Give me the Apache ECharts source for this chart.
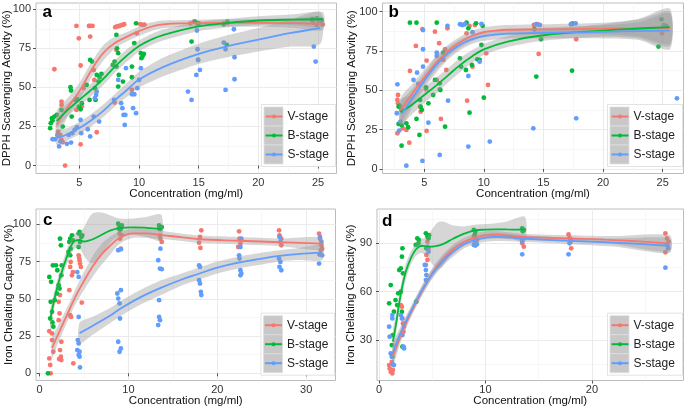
<!DOCTYPE html>
<html><head><meta charset="utf-8">
<script src="https://cdn.jsdelivr.net/npm/echarts@6/dist/echarts.min.js"></script>
<style>html,body{margin:0;padding:0;background:#fff}#c{width:685px;height:410px}</style>
</head><body><div id="c"></div>
<script>
const stages = ['V-stage', 'B-stage', 'S-stage'];
const colors = ['#F8766D', '#00BA38', '#619CFF'];
const xTitle = 'Concentration (mg/ml)';
const yTitleDPPH = 'DPPH Scavenging Activity (%)';
const yTitleIron = 'Iron Chelating Capacity (%)';

// tick labels
const xTicksAB = [5, 10, 15, 20, 25];
const xMinorAB = [2.5, 7.5, 12.5, 17.5, 22.5];
const xTicksC = [0, 10, 20, 30];
const xMinorC = [5, 15, 25];
const xTicksD = [0, 10, 20];
const xMinorD = [5, 15, 25];
const yTicksABC = [0, 25, 50, 75, 100];
const yMinorABC = [12.5, 37.5, 62.5, 87.5];
const yTicksD = [30, 60, 90];
const yMinorD = [15, 45, 75, 105];

// ---- panel a points [concentration, %]
const aV = [[2.9,61.6],[3.2,21.7],[3.4,19.6],[3.5,16.4],[3.6,14.9],[3.5,40.9],[3.5,38.8],[3.8,0],[4.75,89.3],[4.95,81.4],[4.75,35.6],[5.1,64],[5.1,13.6],[5.2,37.7],[5.35,49.5],[5.8,89.3],[5.9,89.3],[6.1,89.3],[5.9,82.5],[6.2,61.2],[6.25,54.8],[6.45,21.3],[7.95,40.3],[8.0,88.5],[8.15,89],[8.3,89.2],[8.45,89.6],[8.6,90],[8.75,90.4],[8.1,74],[9.4,48.4],[9.8,84.6],[10.1,90.4],[10.3,90],[10.45,90.2],[14.3,91],[14.6,92],[14.9,90.5],[17.1,91],[17.4,91.2],[24.6,91.5],[24.9,90],[25.1,91.8],[25.4,90.2]];
const aB = [[2.55,23.9],[2.6,27.1],[2.7,30.3],[2.9,31.3],[2.75,28.8],[3.1,32.4],[3.6,24.9],[3.5,35.6],[4.25,50.1],[4.3,48],[4.35,31.3],[4.65,42],[4.8,42.4],[4.95,37.7],[5.1,36],[5.2,39.9],[5.6,51.6],[5.85,42],[5.9,67.6],[6.05,66.5],[6.3,49.5],[6.45,58],[6.6,53.7],[6.7,56.5],[6.85,58.6],[6.35,42],[7.8,64.4],[7.95,66.5],[8.1,63.3],[8.1,83.6],[8.15,75],[8.25,71.9],[8.25,50.5],[8.3,58],[8.65,53.7],[9.4,56.5],[9.4,63.3],[9.6,78.3],[9.75,91],[10.15,71.9],[10.3,70.1],[10.2,68.7],[10.4,71.4],[14.4,79.3],[14.95,67.6],[14.7,92.1],[15.0,91],[17.1,90.4],[17.4,92],[17.35,77.2],[24.5,93.6],[24.9,94.2],[25.3,93]];
const aS = [[2.75,16.8],[2.95,16.8],[3.15,19.6],[3.3,12.2],[3.4,15.4],[3.95,13.9],[4.1,19.6],[4.3,14.7],[4.4,20.7],[4.6,22.8],[4.8,24.5],[5.1,29.2],[5.15,20.7],[5.7,23.2],[5.9,18.6],[6.2,31.3],[6.3,43.1],[6.4,45.2],[6.45,47.3],[6.65,28.1],[7.9,42],[8.25,54.8],[8.5,39.9],[8.6,36.7],[8.7,32.4],[8.8,26],[8.85,32.4],[8.9,62.3],[9.4,45.6],[9.6,45.6],[9.5,36.7],[9.75,33.5],[9.85,49.5],[10.0,54.8],[10.15,62.3],[14.1,47.3],[14.4,42],[14.8,58],[14.85,86.4],[14.9,74.4],[14.95,67.6],[15.1,61.2],[17.25,48.4],[17.1,78.7],[17.25,74.4],[17.95,87.2],[18.0,69.3],[18.0,55.2],[24.65,76.1],[24.8,66.5],[25.1,92]];
// smooth fits [x, fit, lower, upper]
const aVfit = [[3.1,26,17,35],[4,37,31,43],[5,47.5,42,53],[6,61,56,66],[7,72,67,77],[8,78.5,75,82.5],[9,82.5,79.5,85.5],[10,86,83,89],[11,88.8,86,91.5],[12,90.3,87.8,92.8],[14,91,88.8,93.2],[17,91.3,89,93.6],[20,91.3,88.8,93.8],[23,91.1,88,94.2],[25.4,90.8,86.5,95]];
const aBfit = [[3.1,28.5,24,33],[4,35.5,31.5,39.5],[5,42,38,46],[6,48.5,44.5,52.5],[7,55.5,51.5,59.5],[8,63.5,59.5,67.5],[9,70.5,66.5,74.5],[10,76.5,73,80],[11,80.5,77,84],[12,83.5,80,87],[15,89,86,92],[17.5,91.3,88.5,94],[20,92.8,90,95.6],[23,93.4,90,96.8],[25.4,93.6,89,98.2]];
const aSfit = [[3.1,17.5,13,22],[4,20,16,24],[5,24,20,28],[6,29,25,33],[7,35,31,39],[8,42,38,46],[9,48.5,44,53],[10,55,50,60],[12,63,57,69],[15,71.5,65,78],[17.5,76.5,69.5,83.5],[20,80.5,73,88],[22.5,84.5,76,93],[25.2,88,78,98]];

// ---- panel b points
const bV = [[2.75,43.9],[2.8,41.7],[2.8,47],[2.75,22.7],[2.95,29],[3.2,25.8],[3.5,24.8],[3.75,16.7],[3.8,62.3],[4.3,78.2],[4.65,39.6],[4.7,36.4],[4.85,88.8],[5.15,50.6],[5.2,24.2],[5.2,68.9],[5.9,87.3],[6.05,56.6],[6.25,79.9],[6.3,50.6],[6.4,31.8],[6.6,69.3],[6.75,76.1],[6.95,89.4],[6.85,62.9],[8.55,86.2],[8.6,43.4],[8.8,90.9],[9.05,65],[9.25,91.5],[10.2,73.5],[10.35,53.4],[14.6,73.1],[14.2,91.5],[14.5,92],[17.45,92.6],[17.75,82.4],[24.95,86.2],[25.25,90.9]];
const bB = [[2.85,39.6],[2.95,40],[3.1,37.5],[2.85,28.6],[3.1,27.8],[3.1,14.8],[3.5,29],[3.65,26.5],[3.8,93],[4.35,93],[4.35,31.8],[4.6,21.6],[4.65,43.9],[4.7,39.6],[4.8,37.5],[5.15,51.9],[5.35,41.7],[5.75,47],[5.9,56.6],[6.05,93],[6.3,54.4],[6.35,50.2],[6.6,73.9],[6.75,26.9],[8.0,70.3],[8.1,65],[8.5,62.9],[8.55,93],[8.7,89.4],[8.8,35.8],[9.0,66.1],[9.35,92.6],[9.45,69.7],[9.65,69.3],[9.8,78.8],[10.0,45.3],[9.9,91],[14.25,88.8],[14.4,58.7],[14.8,82.4],[17.4,62.5],[17.4,92.2],[24.65,77.8],[24.9,95.1],[25.1,91.2],[25.3,90.8]];
const bS = [[2.75,53.8],[2.7,35.4],[2.9,24.4],[3.0,30.1],[3.5,2.1],[4.1,56.6],[4.4,61.2],[4.5,54],[4.85,5.1],[4.9,88.3],[4.9,76.1],[4.9,65],[5.35,29.4],[6.05,73.9],[6.05,71.8],[6.3,8.9],[7.0,43.4],[6.95,90.9],[8.0,92],[8.2,91.5],[8.4,92],[8.7,59.1],[8.7,14.2],[9.05,86.9],[9.65,68.2],[10.5,17.4],[9.8,92.2],[14.15,25.8],[14.4,92],[14.7,91.5],[17.75,32.2],[17.3,92],[17.7,92.5],[25.1,90.5],[26.2,44.9]];
const bVfit = [[3,37,29,45],[4,48,42,54],[5,58,53,63],[6,67.5,63,72],[7,75,71,79],[8,80.5,77,84],[9,84.5,81,88],[10,87,84,90],[11,88,85,91],[12,88.5,85.5,91.5],[15,88.7,85.5,92],[20,89.2,85.5,93],[23,89.4,84,95],[25.6,89.6,79.5,100]];
const bBfit = [[3,36,28,44],[4,41,35,47],[5,47,42,52],[6,53,48,58],[7,59.5,55,64],[8,66,61.5,70.5],[9,71.5,67.5,75.5],[10,76,72.5,79.5],[12,81,77.5,84.5],[15,85,81.5,88.5],[20,88,84,92],[23,89.3,83,95.5],[25.6,90.2,78,102]];
const bSfit = [[3.1,35,27,43],[4,45,39,51],[5,56,51,61],[6,66,61,71],[7,73.5,69.5,77.5],[8,79,75.5,82.5],[9,82.5,79.5,85.5],[10,84.5,81.5,87.5],[12,86,83,89],[15,86.5,83,90],[20,87.2,83,91.4],[23,87.6,82,93.2],[25.6,88,76,99]];

// ---- panel c points
const cV = [[1.1,10],[1.2,5.6],[1.25,0],[1.4,22.3],[1.1,28.3],[1.4,26.8],[1.55,14.5],[2.15,35.7],[2.25,40.2],[2.3,52.5],[2.15,48],[2.45,21.2],[2.3,15.6],[2.4,11.2],[2.2,9.6],[2.45,8.9],[3.35,55.8],[3.45,39],[3.55,37.9],[3.5,74.8],[3.65,65.8],[3.75,68],[3.8,6.7],[3.45,71.4],[4.4,79.2],[4.5,75.9],[4.55,73.7],[4.65,71.4],[4.75,47.5],[4.45,77.5],[9.0,93.8],[9.05,90.4],[9.15,83.7],[9.25,92.6],[8.9,97],[13.45,97],[13.55,92.6],[13.6,90.4],[13.75,88.2],[17.95,87.7],[18.05,91.5],[18.1,84.2],[18.2,96],[22.45,95.3],[22.5,90.4],[22.6,87.1],[22.35,84.8],[26.95,96],[27.0,92.6],[27.2,90.4],[27.2,85.9],[31.45,93.8],[31.55,90.4],[31.7,85.9],[31.8,83.7],[31.65,82.6]];
const cB = [[0.95,0],[1.1,64.7],[1.2,36.8],[1.25,48],[1.4,41.3],[1.45,34.2],[1.55,31.3],[1.5,72.5],[1.7,49.1],[1.3,61.4],[1.85,72.5],[2.0,69.2],[2.15,59.2],[1.95,53.6],[2.25,56.9],[2.3,90.4],[2.4,85.9],[2.5,72.5],[2.45,65.8],[3.25,81.5],[3.35,88.2],[3.45,90.4],[3.65,92.6],[3.5,83.7],[3.45,79.2],[3.75,89.3],[4.4,93.8],[4.5,94.9],[4.55,88.2],[4.7,91.5],[4.4,84.8],[4.8,92.5],[8.85,100.4],[9.0,98.2],[9.15,97.1],[9.25,99.3],[9.05,96.5],[13.45,99.3],[13.55,97.5],[13.75,98.2],[13.6,96.8]];
const cS = [[4.25,68],[4.4,64.7],[4.4,37.9],[4.3,22.3],[4.4,20.1],[4.25,15.6],[4.4,12.3],[4.5,11.2],[4.55,4],[4.5,14.5],[8.75,53.6],[8.85,50.2],[9.0,46.9],[9.05,36.8],[9.15,55.8],[8.85,21.2],[9.0,14.5],[9.15,16.7],[8.85,82.6],[9.15,83.3],[13.35,75.9],[13.55,70.3],[13.75,69.9],[13.45,49.1],[13.45,37.9],[13.55,35.7],[13.35,32.4],[13.6,83.7],[17.95,72.5],[18.05,71.4],[17.95,62.5],[18.05,60.3],[18.15,54.7],[18.2,52.5],[22.45,79.2],[22.5,77],[22.6,69.2],[22.7,67],[22.6,65.8],[22.6,84.8],[22.7,90.4],[26.95,77],[27.1,74.8],[27.0,71.4],[27.2,69.2],[27.1,88.2],[27.0,91.5],[31.45,73.7],[31.55,91.5],[31.7,88.2],[31.5,79.7],[31.8,79.2]];
const cVfit = [[1.4,17,10,24],[2,25,19,31],[3,38,33,43],[4,51,46,56],[5,62,56,68],[6,72,65,79],[7,80,73,87],[8,86,80,92],[9,91,87,95],[10.5,94,91,97],[12,94,91,97],[13.5,93,90,96],[15,92,89.5,94.5],[18,90,87.5,92.5],[22.5,89,86.5,91.5],[27,88,85.5,90.5],[31.8,87,83,91]];
const cBfit = [[1.2,36,29,43],[1.5,45,39,51],[2,58,53,63],[2.5,68,63,73],[3,77,72,82],[3.5,85,80,90],[4,89,84,94],[4.5,89.5,84,95],[5,88.5,79,98],[5.5,89,75,104],[6,90,74,107.5],[7,93,80,108],[8,96,88,106],[9,97.5,92,104],[10.5,98,93,104],[12,97.7,91.5,105],[13.7,97,89,106.5]];
const cSfit = [[4.5,27,20,34],[6,32,26,38],[8,39,34,44],[9,43,38,48],[11,50,45,55],[13.5,57,52,62],[16,63,59,67],[18,67,63,71],[20,71,67,75],[22.5,74.5,70.5,78.5],[25,77,73,81],[27,78.8,75,82.6],[29,80,76,84],[31.8,81,76,86]];

// ---- panel d points
const dV = [[0.95,14.5],[1.0,12.4],[1.1,10.3],[1.25,9.3],[1.3,11.4],[1.2,16.5],[2.05,51.7],[2.15,50.7],[2.2,43.4],[2.25,40.3],[2.35,38.3],[2.3,35.2],[4.4,76.6],[4.45,82.8],[4.55,79.7],[4.65,86.9],[4.55,91],[8.9,94.1],[9.05,93.1],[9.2,92.1],[13.4,93.1],[13.45,90],[13.6,87.9],[17.8,95.6],[17.9,93.5],[18.0,91],[18.05,86.9],[26.9,96.2],[27.05,93.1],[26.9,84.4],[27.2,91]];
const dB = [[0.95,52.8],[1.1,64.1],[1.2,26.9],[1.25,19.7],[1.3,33.1],[1.4,47.6],[1.55,54.8],[1.7,51.7],[1.8,59],[1.9,73.4],[2.05,74.5],[2.15,81.7],[2.2,86.9],[2.25,71.4],[2.15,47.6],[2.2,25.9],[2.05,60],[3.45,89],[3.6,93.1],[3.7,90],[3.5,53.8],[3.75,92],[4.4,96.2],[4.55,94.1],[4.65,93.1],[4.45,86.9],[4.7,95],[8.9,98.3],[9.05,97.2],[9.0,95.5],[13.45,99.3],[13.6,98.3],[13.5,97.5]];
const dS = [[0.95,38.3],[1.0,32.1],[1.1,21.7],[1.2,19.7],[1.25,43.4],[1.3,14.9],[1.4,14.5],[1.25,45.5],[2.05,45.5],[2.15,43.4],[2.2,33.1],[2.3,25.9],[2.35,24.8],[4.3,76.6],[4.4,73.4],[4.45,70.3],[4.55,87.9],[4.65,84.8],[4.4,67.2],[8.9,89],[9.05,88.6],[9.2,89.4],[9.0,91],[13.45,83.2],[13.6,93.1],[13.45,91],[17.8,83.2],[17.9,90],[18.05,92.1],[26.9,74.9],[27.05,89],[27.15,86.9]];
const dVfit = [[1.3,20,14,26],[2,32,28,36],[2.5,40,36.5,43.5],[3,47,44,50],[4,60,57,63],[5,71.5,68.5,74.5],[6,80,77,83],[7,86.5,83.5,89.5],[8,91,88.5,93.5],[9,93.5,91,96],[10,95,92.5,97.5],[11,95.3,93,97.6],[13.5,94,92,96],[18,93,91,95],[22,92,89.5,94.5],[27.3,90,85,95]];
const dBfit = [[1.3,29,22,36],[1.6,40,34,46],[2,57,52,62],[2.5,72,67,77],[3,81,77,85],[3.5,86.5,82.5,90.5],[4,88.5,84,93],[4.5,88,82,94],[5,88,77,99],[5.5,88.5,74,103],[6,89.5,76,103.5],[7,93,86,101],[8,96,92,100.5],[9,98,94.5,101.5],[10,98.5,95,102],[11,98.7,95,102.5],[12,98.6,94,103.5],[13.7,98.5,91,106.5]];
const dSfit = [[1.3,22,16,28],[2,34,30,38],[3,48,45,51],[4,60.5,57.5,63.5],[5,71,68,74],[6,79,76,82],[7,85,82,88],[8,89.5,87,92],[9,92,89.5,94.5],[10,93.5,91,96],[11,94,91.5,96.5],[13.5,93,91,95],[18,91.5,89.5,93.5],[22,90.5,88,93],[27.3,88.5,84,93]];

const FONT = '"Liberation Sans", Arial, Helvetica, sans-serif';
const BAND = 'rgba(153,153,153,0.4)';

const panels = [
  {letter:'a', pts:[aV,aB,aS], fits:[aVfit,aBfit,aSfit], xt:xTicksAB, xm:xMinorAB, yt:yTicksABC, ym:yMinorABC, yTitle:yTitleDPPH,
   grid:{left:36, top:3, width:300.5, height:170.5}, xr:[1.36,26.55], yr:[-5.1,104], yGap:23, letterPos:[42.5,12.8], legendPos:[264,107]},
  {letter:'b', pts:[bV,bB,bS], fits:[bVfit,bBfit,bSfit], xt:xTicksAB, xm:xMinorAB, yt:yTicksABC, ym:yMinorABC, yTitle:yTitleDPPH,
   grid:{left:382.5, top:3, width:301, height:170.5}, xr:[1.5,26.75], yr:[-2.9,105.5], yGap:24.5, letterPos:[388.5,12.8], legendPos:[610,107]},
  {letter:'c', pts:[cV,cB,cS], fits:[cVfit,cBfit,cSfit], xt:xTicksC, xm:xMinorC, yt:yTicksABC, ym:yMinorABC, yTitle:yTitleIron,
   grid:{left:36, top:209, width:299.5, height:171.5}, xr:[-0.4,33.3], yr:[-4.8,110.3], yGap:21, letterPos:[43,220.2], legendPos:[263.5,315.7]},
  {letter:'d', pts:[dV,dB,dS], fits:[dVfit,dBfit,dSfit], xt:xTicksD, xm:xMinorD, yt:yTicksD, ym:yMinorD, yTitle:yTitleIron,
   grid:{left:377, top:209, width:306.5, height:171.5}, xr:[-0.19,28.6], yr:[4.9,111.3], yGap:20, letterPos:[382,221.2], legendPos:[610,315.7]}
];

const option = {
  animation: false,
  backgroundColor: '#fff',
  textStyle: {fontFamily: FONT},
  grid: [], xAxis: [], yAxis: [], series: [], legend: [],
  graphic: {elements: []}
};

function bandSeries(fit, xi, yi) {
  return {
    type: 'custom', xAxisIndex: xi, yAxisIndex: yi, clip: true, silent: true, z: 3,
    data: [[fit[0][0], fit[0][2]]],
    renderItem: function (params, api) {
      const pts = [];
      for (let i = 0; i < fit.length; i++) pts.push(api.coord([fit[i][0], fit[i][3]]));
      for (let i = fit.length - 1; i >= 0; i--) pts.push(api.coord([fit[i][0], fit[i][2]]));
      return {type: 'polygon', shape: {points: pts, smooth: 0.25}, style: {fill: BAND, stroke: null}};
    }
  };
}

panels.forEach((p, i) => {
  option.grid.push(Object.assign({show: true, borderColor: '#bcbcbc', borderWidth: 1, backgroundColor: '#fff',
    containLabel: false, outerBoundsMode: 'none'}, p.grid));
  const xb = {type: 'value', gridIndex: i, min: p.xr[0], max: p.xr[1]};
  const yb = {type: 'value', gridIndex: i, min: p.yr[0], max: p.yr[1]};
  option.xAxis.push(Object.assign({}, xb, {
    position: 'bottom', name: xTitle, nameLocation: 'middle', nameGap: 14.5, nameMoveOverlap: false,
    nameTextStyle: {fontSize: 11.5, color: '#111', fontFamily: FONT},
    axisLine: {show: false},
    axisTick: {show: true, length: 3, lineStyle: {color: '#555', width: 1}, customValues: p.xt},
    axisLabel: {show: true, customValues: p.xt, fontSize: 11, color: '#333', margin: 4, fontFamily: FONT},
    splitLine: {show: true, lineStyle: {color: '#ebebeb', width: 1}}
  }));
  option.xAxis.push(Object.assign({}, xb, {
    position: 'top', axisLine: {show: false},
    axisTick: {show: false, customValues: p.xm}, axisLabel: {show: false},
    splitLine: {show: true, lineStyle: {color: '#f4f4f4', width: 0.7}}
  }));
  option.yAxis.push(Object.assign({}, yb, {
    position: 'left', name: p.yTitle, nameLocation: 'middle', nameGap: p.yGap, nameRotate: 90, nameMoveOverlap: false,
    nameTextStyle: {fontSize: 11.5, color: '#111', fontFamily: FONT},
    axisLine: {show: false},
    axisTick: {show: true, length: 3, lineStyle: {color: '#555', width: 1}, customValues: p.yt},
    axisLabel: {show: true, customValues: p.yt, fontSize: 11, color: '#333', margin: 5, fontFamily: FONT},
    splitLine: {show: true, lineStyle: {color: '#ebebeb', width: 1}}
  }));
  option.yAxis.push(Object.assign({}, yb, {
    position: 'right', axisLine: {show: false},
    axisTick: {show: false, customValues: p.ym}, axisLabel: {show: false},
    splitLine: {show: true, lineStyle: {color: '#f4f4f4', width: 0.7}}
  }));
  const xi = 2 * i, yi = 2 * i;
  for (let k = 0; k < 3; k++) {
    option.series.push({
      type: 'scatter', name: p.letter + ' ' + stages[k] + ' points', xAxisIndex: xi, yAxisIndex: yi,
      data: p.pts[k], symbol: 'circle', symbolSize: 4.8, silent: true, z: 2,
      itemStyle: {color: colors[k], opacity: 1}
    });
  }
  for (let k = 0; k < 3; k++) option.series.push(bandSeries(p.fits[k], xi, yi));
  for (let k = 0; k < 3; k++) {
    option.series.push({
      type: 'line', name: stages[k], xAxisIndex: xi, yAxisIndex: yi,
      data: p.fits[k].map(r => [r[0], r[1]]), smooth: 0.4, showSymbol: false,
      symbol: 'circle', symbolSize: 5, silent: true, z: 4,
      lineStyle: {color: colors[k], width: 1.8}, itemStyle: {color: colors[k]}
    });
  }
  const lx = p.legendPos[0], ly = p.legendPos[1];
  option.legend.push({
    orient: 'vertical', left: lx + 0.5, top: ly, padding: 0, itemWidth: 17, itemHeight: 5, itemGap: 0,
    selectedMode: false, z: 20, data: stages.slice(),
    textStyle: {fontSize: 12, color: '#222', fontFamily: FONT, lineHeight: 19}
  });
  const right = p.grid.left + p.grid.width;
  option.graphic.elements.push({type: 'rect', z: 10, silent: true,
    shape: {x: lx - 2.5, y: ly - 2.5, width: right - lx + 1.5, height: 62},
    style: {fill: '#fff', stroke: '#dcdcdc', lineWidth: 0.8}});
  for (let k = 0; k < 3; k++) {
    option.graphic.elements.push({type: 'rect', z: 11, silent: true,
      shape: {x: lx, y: ly + 19 * k, width: 19, height: 19},
      style: {fill: '#c8c8c8', stroke: '#dedede', lineWidth: 0.8}});
  }
  option.graphic.elements.push({type: 'text', z: 30, silent: true, x: p.letterPos[0], y: p.letterPos[1],
    style: {text: p.letter, font: 'bold 17px ' + FONT, fill: '#000', verticalAlign: 'middle', align: 'left'}});
});

const chart = echarts.init(document.getElementById('c'), null, {renderer: 'canvas'});
chart.setOption(option);
</script>
</body></html>
